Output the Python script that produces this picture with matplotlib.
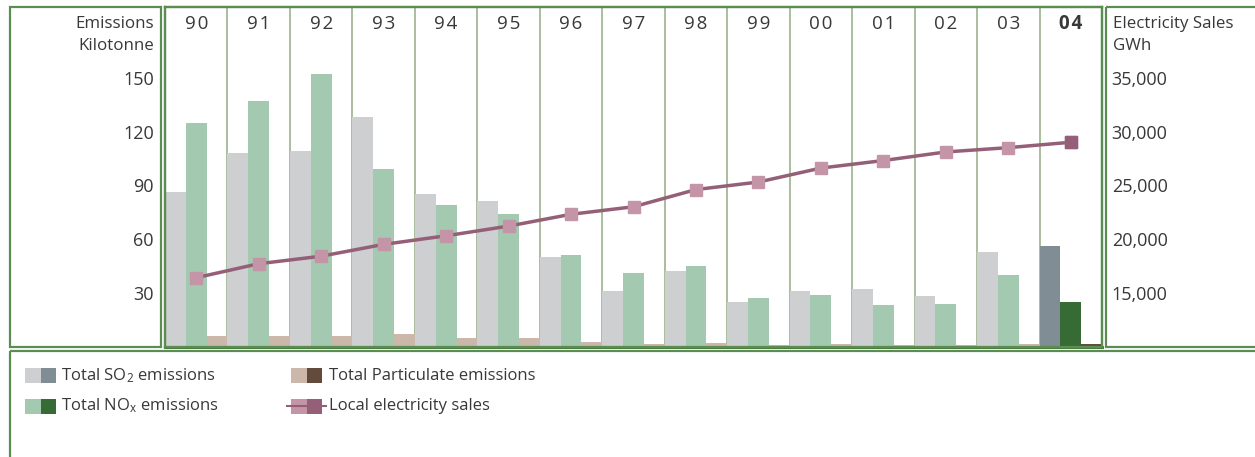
import numpy as np
import matplotlib.pyplot as plt
from matplotlib.patches import Rectangle

plt.rcParams['font.family'] = ['Open Sans', 'DejaVu Sans']
plt.rcParams['mathtext.fontset'] = 'custom'
plt.rcParams['mathtext.rm'] = 'Open Sans'
plt.rcParams['mathtext.it'] = 'Open Sans'

## data
years = ['90', '91', '92', '93', '94', '95', '96', '97', '98', '99', '00', '01', '02', '03', '04']
so2 = [86, 108, 109, 128, 85, 81, 50, 31, 42, 25, 31, 32, 28, 53, 56]           # kilotonne
nox = [125, 137, 152, 99, 79, 74, 51, 41, 45, 27, 29, 23, 24, 40, 25]            # kilotonne
particulate = [6, 6, 6, 7, 4.5, 4.5, 2.5, 1.2, 1.7, 0.8, 1.6, 0.8, 0.8, 1.2, 1.6]
sales = [16400, 17700, 18400, 19500, 20300, 21200, 22300, 23000, 24600, 25300,
         26600, 27300, 28100, 28500, 29000]                                      # GWh
emission_ticks = [30, 60, 90, 120, 150]
sales_ticks = [15000, 20000, 25000, 30000, 35000]

## colours (last year highlighted in darker shade)
so2_c = ['#cdcfd1'] * 14 + ['#808d94']
nox_c = ['#a3cab0'] * 14 + ['#376b35']
part_c = ['#cbb8aa'] * 14 + ['#634b3c']
line_c = '#955f77'
mark_light = '#c495a6'
frame_c = '#5b8c52'
sep_c = '#a3b796'
txt_c = '#383838'

W, H = 1255, 457
fig = plt.figure(figsize=(W / 100, H / 100), dpi=100)

## background layer in pixel coordinates for the boxes and legend
bg = fig.add_axes([0, 0, 1, 1], zorder=0)
bg.set_xlim(0, W)
bg.set_ylim(H, 0)
bg.axis('off')
for (x0, y0, x1, y1) in [(10, 7, 161, 347), (1106, 7, 1262, 347), (10, 351, 1262, 470)]:
    bg.add_patch(Rectangle((x0, y0), x1 - x0, y1 - y0, fill=False, ec=frame_c, lw=1.6))

bg.text(154, 24, 'Emissions', ha='right', va='center', fontsize=12.2, color=txt_c)
bg.text(154, 46, 'Kilotonne', ha='right', va='center', fontsize=12.2, color=txt_c)
bg.text(1113, 24, 'Electricity Sales', ha='left', va='center', fontsize=12.2, color=txt_c)
bg.text(1113, 46, 'GWh', ha='left', va='center', fontsize=12.2, color=txt_c)

## legend
def swatch(x, y, c1, c2):
    bg.add_patch(Rectangle((x, y), 15.5, 14.5, color=c1, lw=0))
    bg.add_patch(Rectangle((x + 15.5, y), 15.5, 14.5, color=c2, lw=0))

swatch(25, 368, so2_c[0], so2_c[-1])
swatch(25, 399, nox_c[0], nox_c[-1])
swatch(291, 368, part_c[0], part_c[-1])
bg.plot([287, 326], [406, 406], color=line_c, lw=1.5)
swatch(291, 399, mark_light, line_c)
bg.text(61, 376, 'Total SO$_2$ emissions', va='center', fontsize=12, color=txt_c)
bg.text(61, 406, 'Total NO$_\\mathrm{x}$ emissions', va='center', fontsize=12, color=txt_c)
bg.text(329, 376, 'Total Particulate emissions', va='center', fontsize=12, color=txt_c)
bg.text(329, 406, 'Local electricity sales', va='center', fontsize=12, color=txt_c)

## main chart
ax = fig.add_axes([165 / W, (H - 346.5) / H, 937 / W, 339.5 / H], zorder=2)
x = np.arange(len(years))
ax.bar(x, so2, width=1 / 3, align='edge', color=so2_c, lw=0)
ax.bar(x + 1 / 3, nox, width=1 / 3, align='edge', color=nox_c, lw=0)
ax.bar(x + 2 / 3, particulate, width=1 / 3, align='edge', color=part_c, lw=0)
for i in range(1, len(years)):
    ax.axvline(i, color=sep_c, lw=1.3, zorder=0.5)
ax.set_xlim(0, len(years))
ymax = 189.5
ax.set_ylim(0, ymax)
ax.set_xticks([])
ax.set_yticks(emission_ticks)
ax.tick_params(axis='y', length=0, pad=8, labelsize=13, labelcolor=txt_c)
for i, y in enumerate(years):
    last = i == len(years) - 1
    ax.text(i + 0.5, 0.95, y[0] + '\u200a' + y[1], transform=ax.get_xaxis_transform(),
            ha='center', va='center', fontsize=13.5, color=txt_c,
            fontweight='bold' if last else 'normal')

ax2 = ax.twinx()
ax2.set_ylim(10000, 10000 + ymax * 5000 / 30)
ax2.plot(x + 0.5, sales, color=line_c, lw=2.5, marker='s', ms=9,
         mfc=mark_light, mec=mark_light, zorder=3)
ax2.plot(x[-1:] + 0.5, sales[-1:], ls='none', marker='s', ms=9, mfc=line_c, mec=line_c, zorder=4)
ax2.set_yticks(sales_ticks)
ax2.set_yticklabels([f'{v:,}' for v in sales_ticks])
ax2.tick_params(axis='y', length=0, pad=7, labelsize=13, labelcolor=txt_c)

for a in (ax, ax2):
    for s in a.spines.values():
        s.set_color(frame_c)
        s.set_linewidth(1.6)
ax.spines['bottom'].set_color('#4a7a40')
ax.spines['bottom'].set_linewidth(2.2)

fig.savefig('out.png', dpi=100)
